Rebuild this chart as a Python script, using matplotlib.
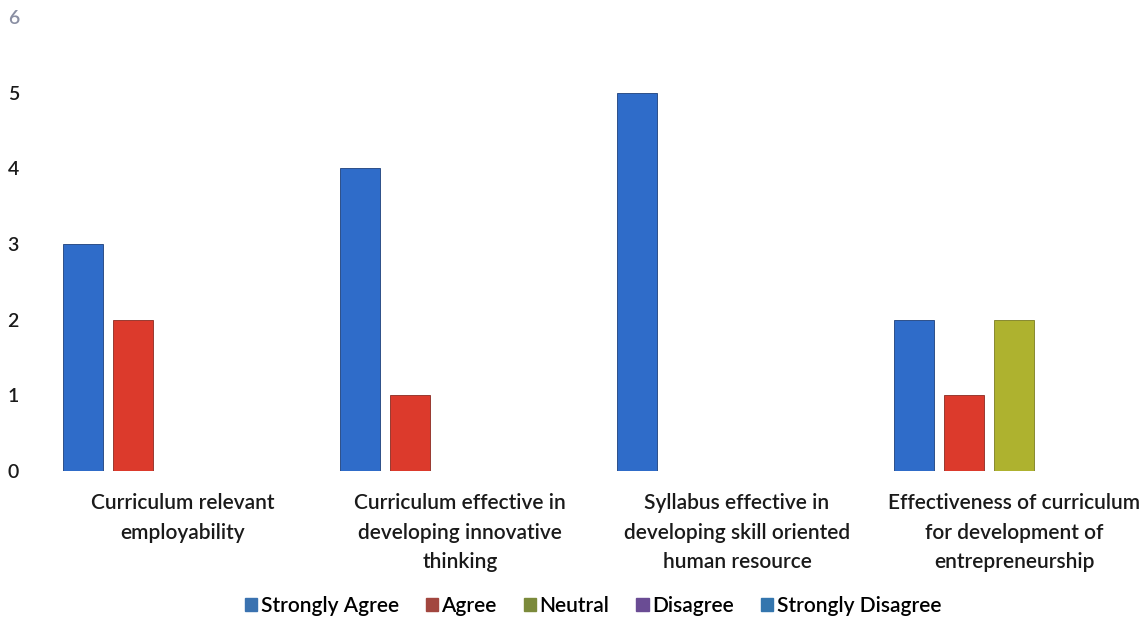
import matplotlib.pyplot as plt
import numpy as np
from matplotlib.patches import Patch

# Chart data
categories = [
    "Curriculum relevant\nemployability",
    "Curriculum effective in\ndeveloping innovative\nthinking",
    "Syllabus effective in\ndeveloping skill oriented\nhuman resource",
    "Effectiveness of curriculum\nfor development of\nentrepreneurship",
]
series = ["Strongly Agree", "Agree", "Neutral", "Disagree", "Strongly Disagree"]
strongly_agree = [3, 4, 5, 2]
agree = [2, 1, 0, 1]
neutral = [0, 0, 0, 2]
disagree = [0, 0, 0, 0]
strongly_disagree = [0, 0, 0, 0]
y_ticks = [0, 1, 2, 3, 4, 5, 6]

bar_colors = ["#2f6cc9", "#dc3a2c", "#aeb22f", "#7a56a8", "#2f78c0"]
edge_colors = ["#1d3f7a", "#8a2a20", "#7a7d20", "#4a3070", "#1d4a7a"]
legend_colors = ["#3a72b0", "#a2463f", "#7b8a3b", "#6a4c94", "#3476ae"]


def main():
    plt.rcParams["font.family"] = ["Lato", "DejaVu Sans"]

    fig = plt.figure(figsize=(11.47, 6.22), dpi=100)
    ax = fig.add_axes([0.0432, 0.2428, 0.9568, 0.7299])

    values = [strongly_agree, agree, neutral, disagree, strongly_disagree]
    x = np.arange(len(categories))
    width = 0.144
    step = 0.1805
    for i, vals in enumerate(values):
        offs = (i - 2) * step
        ax.bar(x + offs, vals, width, color=bar_colors[i],
               edgecolor=edge_colors[i], linewidth=0.6)

    ax.set_xlim(-0.482, 3.48)
    ax.set_ylim(0, 6)
    ax.set_yticks(y_ticks)
    ax.set_xticks(x)
    ax.set_xticklabels(categories, fontsize=15, fontweight="semibold",
                       color="#1a1a1a", linespacing=1.6)
    ax.tick_params(axis="x", length=0, pad=16)
    ax.tick_params(axis="y", length=0, pad=22, labelsize=14)
    for lab in ax.get_yticklabels():
        lab.set_fontweight("semibold")
        lab.set_color("#1a1a1a")
    ax.get_yticklabels()[-1].set_color("#8a8fa3")
    for side in ax.spines.values():
        side.set_visible(False)

    # Legend with square markers below the chart
    handles = [Patch(color=c, label=s) for c, s in zip(legend_colors, series)]
    fig.legend(handles=handles, loc="center", bbox_to_anchor=(0.517, 0.026),
               ncol=5, frameon=False, handlelength=0.6, handleheight=0.6,
               handletextpad=0.15, columnspacing=1.3,
               prop={"size": 15, "weight": "semibold"})

    fig.savefig("out.png", dpi=100)


if __name__ == "__main__":
    main()
